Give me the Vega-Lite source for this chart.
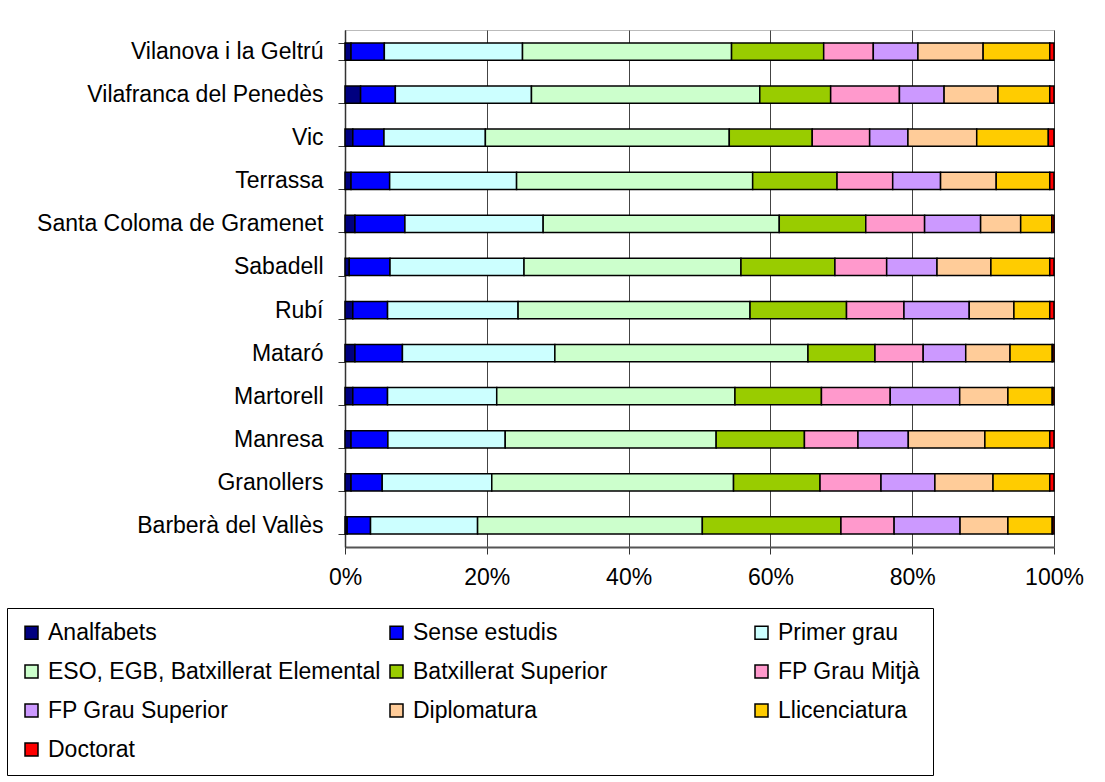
{
  "$schema": "https://vega.github.io/schema/vega-lite/v6.json",
  "autosize": {"type": "none"},
  "width": 709,
  "height": 517,
  "padding": {"left": 345, "top": 30, "right": 51, "bottom": 235},
  "background": "white",
  "data": {
    "values": [
      {"city": "Vilanova i la Geltrú", "level": "Analfabets", "o": 1, "value": 0.85},
      {"city": "Vilanova i la Geltrú", "level": "Sense estudis", "o": 2, "value": 4.7},
      {"city": "Vilanova i la Geltrú", "level": "Primer grau", "o": 3, "value": 19.5},
      {"city": "Vilanova i la Geltrú", "level": "ESO, EGB, Batxillerat Elemental", "o": 4, "value": 29.5},
      {"city": "Vilanova i la Geltrú", "level": "Batxillerat Superior", "o": 5, "value": 13.0},
      {"city": "Vilanova i la Geltrú", "level": "FP Grau Mitjà", "o": 6, "value": 7.0},
      {"city": "Vilanova i la Geltrú", "level": "FP Grau Superior", "o": 7, "value": 6.3},
      {"city": "Vilanova i la Geltrú", "level": "Diplomatura", "o": 8, "value": 9.2},
      {"city": "Vilanova i la Geltrú", "level": "Llicenciatura", "o": 9, "value": 9.4},
      {"city": "Vilanova i la Geltrú", "level": "Doctorat", "o": 10, "value": 0.6},
      {"city": "Vilafranca del Penedès", "level": "Analfabets", "o": 1, "value": 2.2},
      {"city": "Vilafranca del Penedès", "level": "Sense estudis", "o": 2, "value": 4.9},
      {"city": "Vilafranca del Penedès", "level": "Primer grau", "o": 3, "value": 19.2},
      {"city": "Vilafranca del Penedès", "level": "ESO, EGB, Batxillerat Elemental", "o": 4, "value": 32.2},
      {"city": "Vilafranca del Penedès", "level": "Batxillerat Superior", "o": 5, "value": 10.0},
      {"city": "Vilafranca del Penedès", "level": "FP Grau Mitjà", "o": 6, "value": 9.7},
      {"city": "Vilafranca del Penedès", "level": "FP Grau Superior", "o": 7, "value": 6.3},
      {"city": "Vilafranca del Penedès", "level": "Diplomatura", "o": 8, "value": 7.6},
      {"city": "Vilafranca del Penedès", "level": "Llicenciatura", "o": 9, "value": 7.3},
      {"city": "Vilafranca del Penedès", "level": "Doctorat", "o": 10, "value": 0.6},
      {"city": "Vic", "level": "Analfabets", "o": 1, "value": 1.1},
      {"city": "Vic", "level": "Sense estudis", "o": 2, "value": 4.4},
      {"city": "Vic", "level": "Primer grau", "o": 3, "value": 14.3},
      {"city": "Vic", "level": "ESO, EGB, Batxillerat Elemental", "o": 4, "value": 34.4},
      {"city": "Vic", "level": "Batxillerat Superior", "o": 5, "value": 11.7},
      {"city": "Vic", "level": "FP Grau Mitjà", "o": 6, "value": 8.1},
      {"city": "Vic", "level": "FP Grau Superior", "o": 7, "value": 5.4},
      {"city": "Vic", "level": "Diplomatura", "o": 8, "value": 9.7},
      {"city": "Vic", "level": "Llicenciatura", "o": 9, "value": 10.1},
      {"city": "Vic", "level": "Doctorat", "o": 10, "value": 0.8},
      {"city": "Terrassa", "level": "Analfabets", "o": 1, "value": 0.85},
      {"city": "Terrassa", "level": "Sense estudis", "o": 2, "value": 5.45},
      {"city": "Terrassa", "level": "Primer grau", "o": 3, "value": 17.9},
      {"city": "Terrassa", "level": "ESO, EGB, Batxillerat Elemental", "o": 4, "value": 33.3},
      {"city": "Terrassa", "level": "Batxillerat Superior", "o": 5, "value": 11.9},
      {"city": "Terrassa", "level": "FP Grau Mitjà", "o": 6, "value": 7.85},
      {"city": "Terrassa", "level": "FP Grau Superior", "o": 7, "value": 6.75},
      {"city": "Terrassa", "level": "Diplomatura", "o": 8, "value": 7.85},
      {"city": "Terrassa", "level": "Llicenciatura", "o": 9, "value": 7.55},
      {"city": "Terrassa", "level": "Doctorat", "o": 10, "value": 0.6},
      {"city": "Santa Coloma de Gramenet", "level": "Analfabets", "o": 1, "value": 1.4},
      {"city": "Santa Coloma de Gramenet", "level": "Sense estudis", "o": 2, "value": 7.05},
      {"city": "Santa Coloma de Gramenet", "level": "Primer grau", "o": 3, "value": 19.5},
      {"city": "Santa Coloma de Gramenet", "level": "ESO, EGB, Batxillerat Elemental", "o": 4, "value": 33.3},
      {"city": "Santa Coloma de Gramenet", "level": "Batxillerat Superior", "o": 5, "value": 12.2},
      {"city": "Santa Coloma de Gramenet", "level": "FP Grau Mitjà", "o": 6, "value": 8.3},
      {"city": "Santa Coloma de Gramenet", "level": "FP Grau Superior", "o": 7, "value": 7.9},
      {"city": "Santa Coloma de Gramenet", "level": "Diplomatura", "o": 8, "value": 5.65},
      {"city": "Santa Coloma de Gramenet", "level": "Llicenciatura", "o": 9, "value": 4.4},
      {"city": "Santa Coloma de Gramenet", "level": "Doctorat", "o": 10, "value": 0.3},
      {"city": "Sabadell", "level": "Analfabets", "o": 1, "value": 0.6},
      {"city": "Sabadell", "level": "Sense estudis", "o": 2, "value": 5.75},
      {"city": "Sabadell", "level": "Primer grau", "o": 3, "value": 18.9},
      {"city": "Sabadell", "level": "ESO, EGB, Batxillerat Elemental", "o": 4, "value": 30.6},
      {"city": "Sabadell", "level": "Batxillerat Superior", "o": 5, "value": 13.25},
      {"city": "Sabadell", "level": "FP Grau Mitjà", "o": 6, "value": 7.3},
      {"city": "Sabadell", "level": "FP Grau Superior", "o": 7, "value": 7.1},
      {"city": "Sabadell", "level": "Diplomatura", "o": 8, "value": 7.6},
      {"city": "Sabadell", "level": "Llicenciatura", "o": 9, "value": 8.3},
      {"city": "Sabadell", "level": "Doctorat", "o": 10, "value": 0.6},
      {"city": "Rubí", "level": "Analfabets", "o": 1, "value": 1.1},
      {"city": "Rubí", "level": "Sense estudis", "o": 2, "value": 4.9},
      {"city": "Rubí", "level": "Primer grau", "o": 3, "value": 18.4},
      {"city": "Rubí", "level": "ESO, EGB, Batxillerat Elemental", "o": 4, "value": 32.7},
      {"city": "Rubí", "level": "Batxillerat Superior", "o": 5, "value": 13.6},
      {"city": "Rubí", "level": "FP Grau Mitjà", "o": 6, "value": 8.1},
      {"city": "Rubí", "level": "FP Grau Superior", "o": 7, "value": 9.2},
      {"city": "Rubí", "level": "Diplomatura", "o": 8, "value": 6.3},
      {"city": "Rubí", "level": "Llicenciatura", "o": 9, "value": 5.05},
      {"city": "Rubí", "level": "Doctorat", "o": 10, "value": 0.6},
      {"city": "Mataró", "level": "Analfabets", "o": 1, "value": 1.4},
      {"city": "Mataró", "level": "Sense estudis", "o": 2, "value": 6.7},
      {"city": "Mataró", "level": "Primer grau", "o": 3, "value": 21.5},
      {"city": "Mataró", "level": "ESO, EGB, Batxillerat Elemental", "o": 4, "value": 35.7},
      {"city": "Mataró", "level": "Batxillerat Superior", "o": 5, "value": 9.45},
      {"city": "Mataró", "level": "FP Grau Mitjà", "o": 6, "value": 6.8},
      {"city": "Mataró", "level": "FP Grau Superior", "o": 7, "value": 6.0},
      {"city": "Mataró", "level": "Diplomatura", "o": 8, "value": 6.25},
      {"city": "Mataró", "level": "Llicenciatura", "o": 9, "value": 5.95},
      {"city": "Mataró", "level": "Doctorat", "o": 10, "value": 0.25},
      {"city": "Martorell", "level": "Analfabets", "o": 1, "value": 1.1},
      {"city": "Martorell", "level": "Sense estudis", "o": 2, "value": 4.9},
      {"city": "Martorell", "level": "Primer grau", "o": 3, "value": 15.4},
      {"city": "Martorell", "level": "ESO, EGB, Batxillerat Elemental", "o": 4, "value": 33.6},
      {"city": "Martorell", "level": "Batxillerat Superior", "o": 5, "value": 12.2},
      {"city": "Martorell", "level": "FP Grau Mitjà", "o": 6, "value": 9.7},
      {"city": "Martorell", "level": "FP Grau Superior", "o": 7, "value": 9.8},
      {"city": "Martorell", "level": "Diplomatura", "o": 8, "value": 6.8},
      {"city": "Martorell", "level": "Llicenciatura", "o": 9, "value": 6.25},
      {"city": "Martorell", "level": "Doctorat", "o": 10, "value": 0.25},
      {"city": "Manresa", "level": "Analfabets", "o": 1, "value": 0.85},
      {"city": "Manresa", "level": "Sense estudis", "o": 2, "value": 5.2},
      {"city": "Manresa", "level": "Primer grau", "o": 3, "value": 16.55},
      {"city": "Manresa", "level": "ESO, EGB, Batxillerat Elemental", "o": 4, "value": 29.75},
      {"city": "Manresa", "level": "Batxillerat Superior", "o": 5, "value": 12.45},
      {"city": "Manresa", "level": "FP Grau Mitjà", "o": 6, "value": 7.55},
      {"city": "Manresa", "level": "FP Grau Superior", "o": 7, "value": 7.1},
      {"city": "Manresa", "level": "Diplomatura", "o": 8, "value": 10.8},
      {"city": "Manresa", "level": "Llicenciatura", "o": 9, "value": 9.15},
      {"city": "Manresa", "level": "Doctorat", "o": 10, "value": 0.6},
      {"city": "Granollers", "level": "Analfabets", "o": 1, "value": 0.85},
      {"city": "Granollers", "level": "Sense estudis", "o": 2, "value": 4.4},
      {"city": "Granollers", "level": "Primer grau", "o": 3, "value": 15.45},
      {"city": "Granollers", "level": "ESO, EGB, Batxillerat Elemental", "o": 4, "value": 34.1},
      {"city": "Granollers", "level": "Batxillerat Superior", "o": 5, "value": 12.2},
      {"city": "Granollers", "level": "FP Grau Mitjà", "o": 6, "value": 8.6},
      {"city": "Granollers", "level": "FP Grau Superior", "o": 7, "value": 7.6},
      {"city": "Granollers", "level": "Diplomatura", "o": 8, "value": 8.2},
      {"city": "Granollers", "level": "Llicenciatura", "o": 9, "value": 8.0},
      {"city": "Granollers", "level": "Doctorat", "o": 10, "value": 0.6},
      {"city": "Barberà del Vallès", "level": "Analfabets", "o": 1, "value": 0.3},
      {"city": "Barberà del Vallès", "level": "Sense estudis", "o": 2, "value": 3.3},
      {"city": "Barberà del Vallès", "level": "Primer grau", "o": 3, "value": 15.1},
      {"city": "Barberà del Vallès", "level": "ESO, EGB, Batxillerat Elemental", "o": 4, "value": 31.7},
      {"city": "Barberà del Vallès", "level": "Batxillerat Superior", "o": 5, "value": 19.55},
      {"city": "Barberà del Vallès", "level": "FP Grau Mitjà", "o": 6, "value": 7.5},
      {"city": "Barberà del Vallès", "level": "FP Grau Superior", "o": 7, "value": 9.3},
      {"city": "Barberà del Vallès", "level": "Diplomatura", "o": 8, "value": 6.75},
      {"city": "Barberà del Vallès", "level": "Llicenciatura", "o": 9, "value": 6.25},
      {"city": "Barberà del Vallès", "level": "Doctorat", "o": 10, "value": 0.25}
    ]
  },
  "mark": {"type": "bar", "stroke": "#000000", "strokeWidth": 1.5},
  "encoding": {
    "y": {
      "field": "city",
      "type": "nominal",
      "sort": ["Vilanova i la Geltrú", "Vilafranca del Penedès", "Vic", "Terrassa", "Santa Coloma de Gramenet", "Sabadell", "Rubí", "Mataró", "Martorell", "Manresa", "Granollers", "Barberà del Vallès"],
      "scale": {"paddingInner": 0.6, "paddingOuter": 0.3},
      "axis": {
        "title": null,
        "tickBand": "extent",
        "tickSize": 7,
        "tickColor": "#333333",
        "domainColor": "#333333",
        "domainWidth": 1.5,
        "labelFontSize": 23,
        "labelPadding": 15,
        "labelColor": "#000000",
        "labelLimit": 400,
        "grid": false
      }
    },
    "x": {
      "field": "value",
      "type": "quantitative",
      "stack": "normalize",
      "scale": {"domain": [0, 1], "nice": false},
      "axis": {
        "title": null,
        "format": "%",
        "values": [0, 0.2, 0.4, 0.6, 0.8, 1],
        "grid": true,
        "gridColor": "#444444",
        "gridWidth": 1,
        "tickSize": 7,
        "tickColor": "#333333",
        "domainColor": "#555555",
        "domainWidth": 2,
        "labelFontSize": 23,
        "labelPadding": 12,
        "labelColor": "#000000",
        "labelFlush": false,
        "labelOverlap": false
      }
    },
    "color": {
      "field": "level",
      "type": "nominal",
      "scale": {
        "domain": ["Analfabets", "Sense estudis", "Primer grau", "ESO, EGB, Batxillerat Elemental", "Batxillerat Superior", "FP Grau Mitjà", "FP Grau Superior", "Diplomatura", "Llicenciatura", "Doctorat"],
        "range": ["#000080", "#0000FF", "#CCFFFF", "#CCFFCC", "#99CC00", "#FF99CC", "#CC99FF", "#FFCC99", "#FFCC00", "#FF0000"]
      },
      "legend": {
        "title": null,
        "orient": "none",
        "legendX": -338,
        "legendY": 578,
        "direction": "horizontal",
        "columns": 3,
        "gridAlign": "all",
        "columnPadding": 4,
        "rowPadding": 15,
        "padding": 13,
        "strokeColor": "#000000",
        "symbolType": "square",
        "symbolSize": 169,
        "symbolStrokeColor": "#000000",
        "symbolStrokeWidth": 1.5,
        "symbolOpacity": 1,
        "labelFontSize": 23,
        "labelColor": "#000000",
        "labelOffset": 5,
        "labelLimit": 500
      }
    },
    "order": {"field": "o", "type": "quantitative", "sort": "ascending"}
  },
  "config": {
    "font": "Liberation Sans",
    "view": {"stroke": "#bbbbbb", "strokeWidth": 1}
  }
}
